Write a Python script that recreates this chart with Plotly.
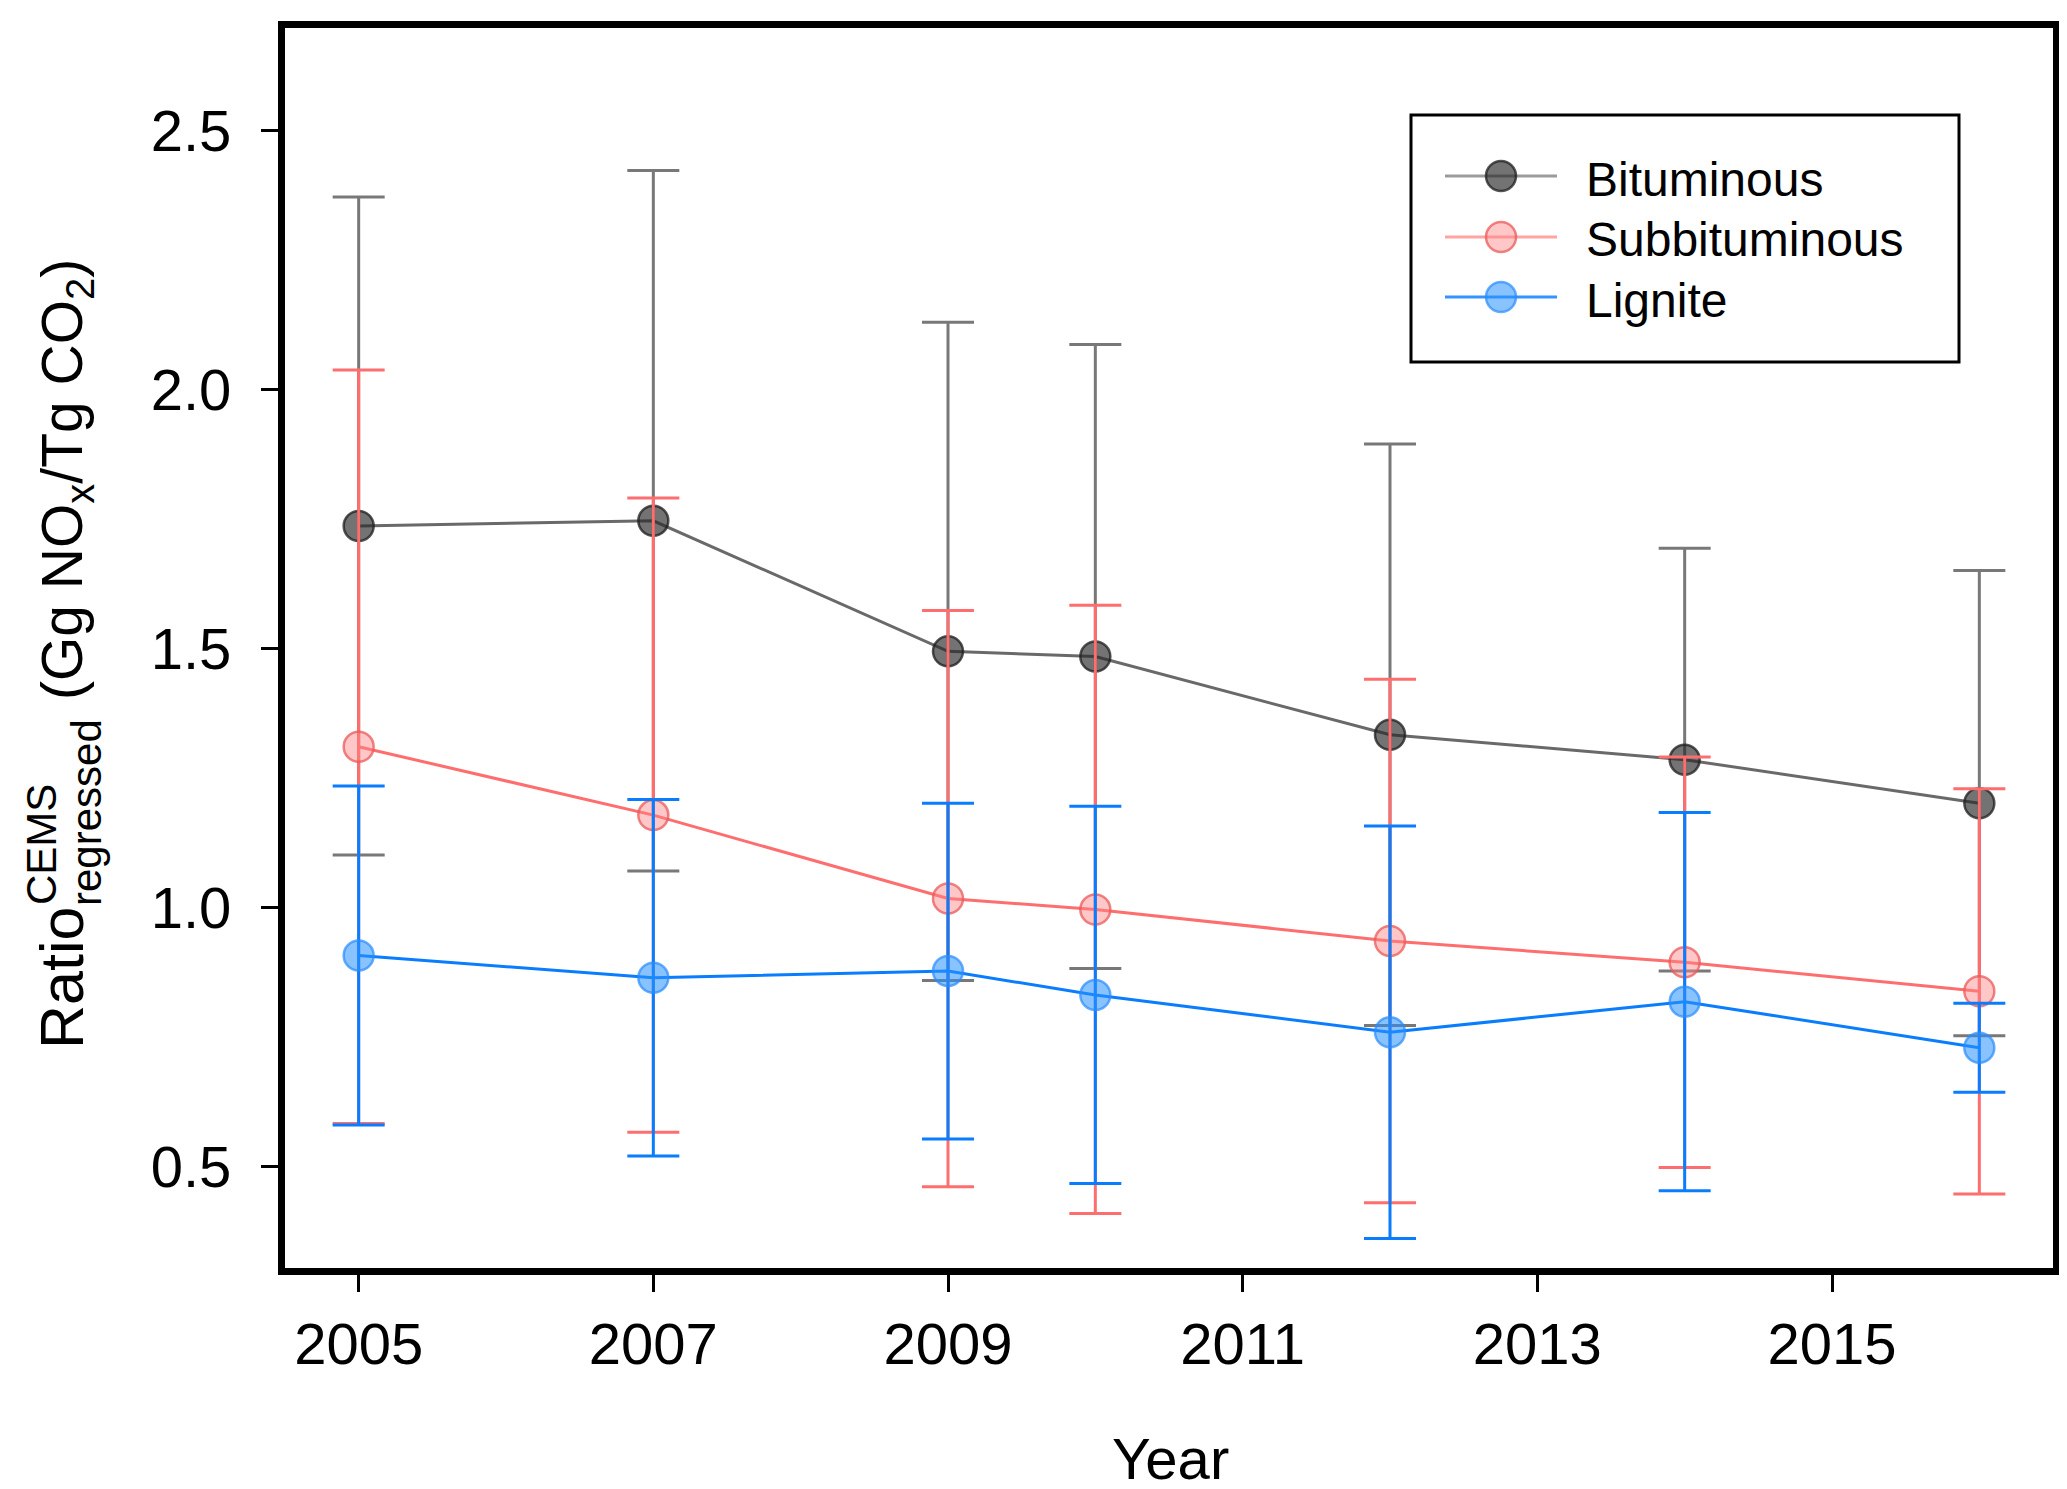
import plotly.graph_objects as go

# ---------------- data ----------------
years = [2005, 2007, 2009, 2010, 2012, 2014, 2016]

bit_vals = [1.737, 1.747, 1.495, 1.485, 1.334, 1.286, 1.202]
bit_err = [0.635, 0.676, 0.635, 0.602, 0.561, 0.408, 0.449]

sub_vals = [1.311, 1.179, 1.018, 0.997, 0.936, 0.895, 0.839]
sub_err = [0.727, 0.612, 0.556, 0.587, 0.505, 0.396, 0.391]

lig_vals = [0.908, 0.865, 0.878, 0.832, 0.760, 0.819, 0.730]
lig_err = [0.327, 0.344, 0.324, 0.364, 0.398, 0.365, 0.086]

series_names = ["Bituminous", "Subbituminous", "Lignite"]
x_ticks = [2005, 2007, 2009, 2011, 2013, 2015]
y_ticks = [0.5, 1.0, 1.5, 2.0, 2.5]
y_tick_labels = ["0.5", "1.0", "1.5", "2.0", "2.5"]

# ---------------- styles ----------------
W, H = 2067, 1489
L, R, T, B = 277, 2045, 20, 1260
FONT = "Liberation Sans, Arial, sans-serif"

styles = [
    dict(line="rgb(105,105,105)", err="rgb(120,120,120)",
         fill="rgba(40,40,40,0.65)", edge="rgba(30,30,30,0.75)",
         legline="rgba(130,130,130,0.8)"),
    dict(line="rgb(255,110,110)", err="rgb(255,110,110)",
         fill="rgba(255,130,130,0.45)", edge="rgba(235,90,90,0.75)",
         legline="rgba(255,140,140,0.8)"),
    dict(line="rgb(10,125,255)", err="rgb(10,125,255)",
         fill="rgba(40,145,255,0.55)", edge="rgba(40,140,255,0.7)",
         legline="rgba(30,135,255,0.9)"),
]


def px2x(px):
    return (px - L) / (R - L)


def py2y(py):
    return 1 - (py - T) / (B - T)


fig = go.Figure()
for name, vals, errs, st in zip(series_names,
                                [bit_vals, sub_vals, lig_vals],
                                [bit_err, sub_err, lig_err], styles):
    fig.add_trace(go.Scatter(
        x=years, y=vals, name=name, mode="lines+markers",
        line=dict(color=st["line"], width=3),
        marker=dict(size=30, color=st["fill"],
                    line=dict(color=st["edge"], width=2.5)),
        error_y=dict(type="data", array=errs, visible=True,
                     color=st["err"], thickness=3, width=26),
        showlegend=False,
    ))

fig.update_layout(
    width=W, height=H,
    margin=dict(l=L, r=W - R, t=T, b=H - B),
    paper_bgcolor="white", plot_bgcolor="white",
    font=dict(family=FONT, color="black"),
    showlegend=False,
)
fig.update_xaxes(
    range=[2004.5, 2016.5], tickvals=x_ticks,
    ticktext=[str(v) for v in x_ticks],
    showgrid=False, zeroline=False,
    showline=True, linecolor="black", linewidth=7, mirror=True,
    ticks="outside", ticklen=17, tickwidth=3, tickcolor="black",
    tickfont=dict(size=58, family=FONT), ticklabelstandoff=2,
)
fig.update_yaxes(
    range=[0.305, 2.698], tickvals=y_ticks, ticktext=y_tick_labels,
    showgrid=False, zeroline=False,
    showline=True, linecolor="black", linewidth=7, mirror=True,
    ticks="outside", ticklen=17, tickwidth=3, tickcolor="black",
    tickfont=dict(size=58, family=FONT), ticklabelstandoff=18,
)

ann = []
# x-axis title
ann.append(dict(text="Year", x=px2x(1162), y=py2y(1450), xref="paper", yref="paper",
                xanchor="center", yanchor="middle", showarrow=False,
                font=dict(size=58, family=FONT)))
# y-axis title (pieces, rotated)
ann.append(dict(text="Ratio", x=px2x(54), y=py2y(970), xref="paper", yref="paper",
                xanchor="center", yanchor="middle", showarrow=False, textangle=-90,
                font=dict(size=61, family=FONT)))
ann.append(dict(text="CEMS", x=px2x(33), y=py2y(836), xref="paper", yref="paper",
                xanchor="center", yanchor="middle", showarrow=False, textangle=-90,
                font=dict(size=42, family=FONT)))
ann.append(dict(text="regressed", x=px2x(78), y=py2y(805), xref="paper", yref="paper",
                xanchor="center", yanchor="middle", showarrow=False, textangle=-90,
                font=dict(size=42, family=FONT)))
ann.append(dict(text="(Gg NO<sub>x</sub>/Tg CO<sub>2</sub>)", x=px2x(58), y=py2y(472),
                xref="paper", yref="paper",
                xanchor="center", yanchor="middle", showarrow=False, textangle=-90,
                font=dict(size=57, family=FONT)))

shapes = []
# custom legend box
shapes.append(dict(type="rect", xref="paper", yref="paper",
                   x0=px2x(1403), x1=px2x(1951), y0=py2y(107), y1=py2y(354),
                   line=dict(color="black", width=3), fillcolor="white", layer="above"))
leg_y = [168, 229, 289]
for name, yy, st in zip(series_names, leg_y, styles):
    shapes.append(dict(type="line", xref="paper", yref="paper",
                       x0=px2x(1437), x1=px2x(1549), y0=py2y(yy), y1=py2y(yy),
                       line=dict(color=st["legline"], width=3), layer="above"))
    shapes.append(dict(type="circle", xref="paper", yref="paper",
                       xsizemode="pixel", ysizemode="pixel",
                       xanchor=px2x(1493), yanchor=py2y(yy),
                       x0=-15, x1=15, y0=-15, y1=15,
                       fillcolor=st["fill"], line=dict(color=st["edge"], width=2.5),
                       layer="above"))
    ann.append(dict(text=name, x=px2x(1576), y=py2y(yy + 3), xref="paper", yref="paper",
                    xanchor="left", yanchor="middle", showarrow=False,
                    font=dict(size=48, family=FONT)))

fig.update_layout(annotations=ann, shapes=shapes)
fig.write_html("out.html")
